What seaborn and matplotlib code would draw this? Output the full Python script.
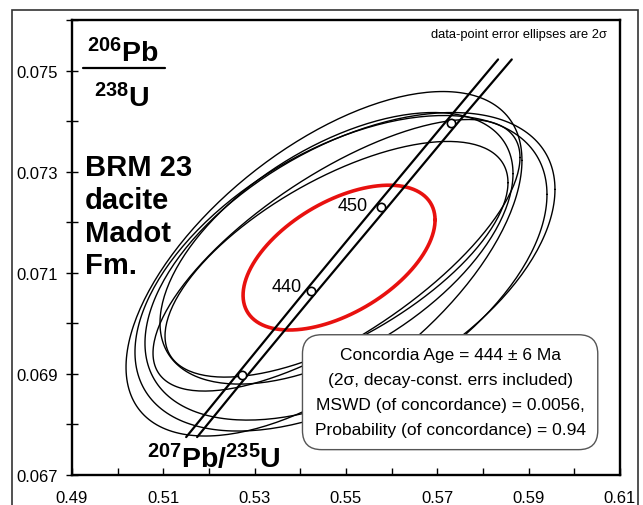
import numpy as np
import pandas as pd
import matplotlib
matplotlib.use("Agg")
import matplotlib.pyplot as plt
from matplotlib.patches import Rectangle
import seaborn as sns

# concordia band (Ma, 207Pb/235U, 206Pb/238U)
conc_age = [422.6, 430, 440, 450, 460, 467.5]
conc_x = [0.5162, 0.5273, 0.5424, 0.5577, 0.5731, 0.5848]
conc_y = [0.06775, 0.06898, 0.07064, 0.07230, 0.07397, 0.07522]
band_dx = [0.0012, 0.0012, 0.0013, 0.0014, 0.0014, 0.0015]
marker_ages = [430, 440, 450, 460]
labelled_ages = [440, 450]

# data-point 2 sigma error ellipses
ell_x = [0.54518, 0.55087, 0.54890, 0.54792, 0.54792, 0.54792]
ell_y = [0.071178, 0.071128, 0.070990, 0.071346, 0.071484, 0.071267]
ell_sx = [0.04335, 0.04489, 0.04511, 0.04018, 0.03865, 0.03755]
ell_sy = [0.003407, 0.003042, 0.003121, 0.002686, 0.002686, 0.002331]
ell_rho = [0.60, 0.50, 0.50, 0.72, 0.55, 0.65]

# concordia age ellipse
age_x, age_y = 0.54848, 0.07130
age_sx, age_sy, age_rho = 0.02102, 0.001432, 0.52

x_ticks = [0.49, 0.51, 0.53, 0.55, 0.57, 0.59, 0.61]
y_ticks = [0.067, 0.069, 0.071, 0.073, 0.075]


def ellipse(cx, cy, sx, sy, rho, n=240):
    t = np.linspace(0, 2 * np.pi, n)
    return pd.DataFrame({
        "x": cx + sx * np.cos(t),
        "y": cy + sy * (rho * np.cos(t) + np.sqrt(1 - rho ** 2) * np.sin(t)),
        "t": t,
    })


sns.set_theme(style="white")
plt.rcParams["font.family"] = ["Liberation Sans", "DejaVu Sans"]
plt.rcParams["mathtext.fontset"] = "custom"
plt.rcParams["mathtext.rm"] = "Liberation Sans"
plt.rcParams["mathtext.bf"] = "Liberation Sans:bold"
plt.rcParams["text.color"] = "black"
plt.rcParams["xtick.color"] = "black"
plt.rcParams["ytick.color"] = "black"

fig = plt.figure(figsize=(6.43, 5.06), dpi=100)
ax = fig.add_axes([72 / 643, 1 - 476 / 506, 548 / 643, 455 / 506])

# black data-point ellipses
for i in range(len(ell_x)):
    df = ellipse(ell_x[i], ell_y[i], ell_sx[i], ell_sy[i], ell_rho[i])
    sns.lineplot(data=df, x="x", y="y", sort=False, estimator=None,
                 color="black", lw=1.0, ax=ax, zorder=2)

# red concordia age ellipse
df_age = ellipse(age_x, age_y, age_sx, age_sy, age_rho)
sns.lineplot(data=df_age, x="x", y="y", sort=False, estimator=None,
             color="#e8110f", lw=2.6, ax=ax, zorder=3)

# concordia band
conc = pd.DataFrame({"age": conc_age, "x": conc_x, "y": conc_y, "dx": band_dx})
for sign in (-1, 1):
    edge = pd.DataFrame({"x": conc["x"] + sign * conc["dx"], "y": conc["y"]})
    sns.lineplot(data=edge, x="x", y="y", sort=False, estimator=None,
                 color="black", lw=1.6, ax=ax, zorder=4)

marks = conc[conc["age"].isin(marker_ages)]
ax.plot(marks["x"], marks["y"], "o", ms=6, mfc="white", mec="black",
        mew=1.2, zorder=5)
for age, dx, dy in zip(labelled_ages, [-7, -10], [3.5, 1]):
    row = conc[conc["age"] == age].iloc[0]
    ax.annotate(str(age), (row["x"], row["y"]), xytext=(dx, dy),
                textcoords="offset points", ha="right", va="center",
                fontsize=13, zorder=6)

ax.set_xlim(0.49, 0.61)
ax.set_ylim(0.067, 0.076)
ax.set_xticks(x_ticks)
ax.set_xticks(np.arange(0.49, 0.6101, 0.01), minor=True)
ax.set_yticks(y_ticks)
ax.set_yticks(np.arange(0.067, 0.07601, 0.001), minor=True)
ax.set_xticklabels([f"{v:.2f}" for v in x_ticks])
ax.set_yticklabels([f"{v:.3f}" for v in y_ticks])
ax.tick_params(axis="x", which="both", direction="in", length=5, width=1,
               pad=11, labelsize=12)
ax.tick_params(axis="y", which="both", direction="inout", length=8, width=1,
               pad=6, labelsize=12)
ax.tick_params(bottom=True, left=True, which="both")
ax.set_xlabel("")
ax.set_ylabel("")
for s in ax.spines.values():
    s.set_color("black")
    s.set_linewidth(1.7)

# axis titles inside the plot
ax.text(0.093, 0.910, r"$\mathbf{^{206}Pb}$", transform=ax.transAxes,
        ha="center", va="baseline", fontsize=20.5)
ax.plot([0.020, 0.170], [0.8945, 0.8945], transform=ax.transAxes,
        color="black", lw=1.6, clip_on=False)
ax.text(0.091, 0.811, r"$\mathbf{^{238}U}$", transform=ax.transAxes,
        ha="center", va="baseline", fontsize=20.5)
ax.text(0.259, 0.0176, r"$\mathbf{^{207}Pb/^{235}U}$", transform=ax.transAxes,
        ha="center", va="baseline", fontsize=20.5)
ax.text(0.024, 0.708, "BRM 23\ndacite\nMadot\nFm.", transform=ax.transAxes,
        ha="left", va="top", fontsize=21, fontweight="bold", linespacing=1.22)
ax.text(0.976, 0.969, "data-point error ellipses are 2σ",
        transform=ax.transAxes, ha="right", va="center", fontsize=9.3)

ax.text(0.690, 0.182,
        "Concordia Age = 444 ± 6 Ma\n(2σ, decay-const. errs included)\n"
        "MSWD (of concordance) = 0.0056,\nProbability (of concordance) = 0.94",
        transform=ax.transAxes, ha="center", va="center", fontsize=12.5,
        linespacing=1.85, zorder=7,
        bbox=dict(boxstyle="round,pad=0.7,rounding_size=1.1", fc="white",
                  ec="#555555", lw=1))

# outer frame round the whole figure
fig.patches.append(Rectangle((12 / 643, -0.1), 626 / 643, 1.1 - 11 / 506,
                             transform=fig.transFigure, fill=False,
                             ec="#333333", lw=1.2))

fig.savefig("out.png", dpi=100)
